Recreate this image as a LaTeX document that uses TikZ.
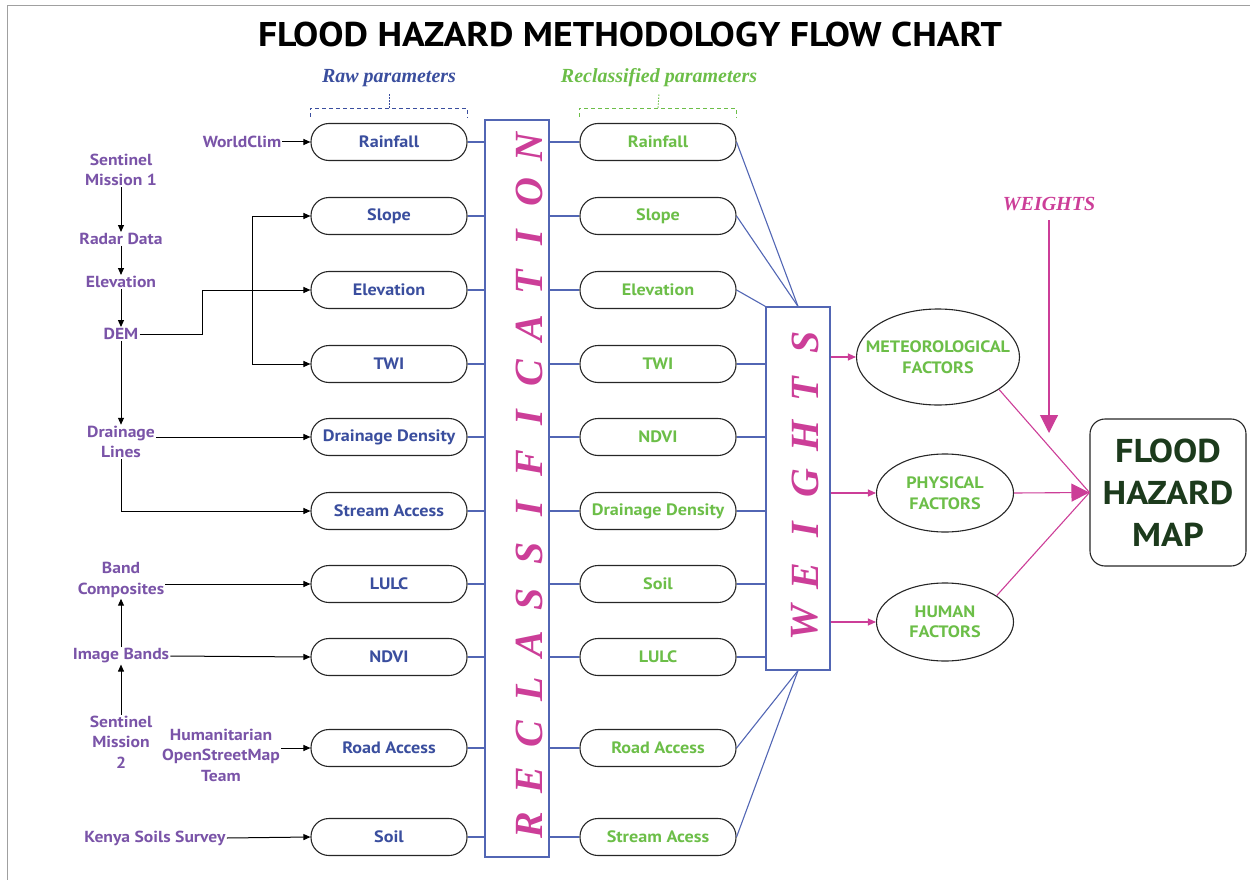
\documentclass[tikz,border=0pt]{standalone}
\usepackage{fontspec}
\setmainfont[FakeStretch=1.1]{PT Sans}
\newfontfamily\lserif{Liberation Serif}
\usetikzlibrary{arrows.meta,shapes.geometric,calc}
\definecolor{rawblue}{RGB}{58,78,158}
\definecolor{lineblue}{RGB}{82,102,180}
\definecolor{rgreen}{RGB}{108,190,72}
\definecolor{srcpurple}{RGB}{122,84,168}
\definecolor{wmag}{RGB}{204,62,152}
\definecolor{mapgreen}{RGB}{28,58,28}
\definecolor{framegray}{RGB}{160,160,160}
\begin{document}
\begin{tikzpicture}[x=1pt,y=-1pt,
  pbox/.style={draw=black!85, line width=1.1pt, rounded corners=18pt, minimum width=156pt, minimum height=37pt, inner sep=0pt, font=\fontsize{16.5}{18}\selectfont\bfseries},
  raw/.style={pbox, text=rawblue},
  rcl/.style={pbox, text=rgreen},
  src/.style={text=srcpurple, font=\fontsize{16}{20.5}\selectfont\bfseries, align=center, inner sep=1pt},
  arr/.style={-{Triangle[length=7pt,width=6pt]}, line width=1pt, black},
  blu/.style={lineblue, line width=1.1pt},
  mag/.style={wmag, line width=1.1pt},
  marr/.style={mag, -{Triangle[length=8pt,width=7pt]}},
  bigarr/.style={mag, -{Triangle[length=18pt,width=18pt]}},
  sidebox/.style={draw=lineblue, line width=1.2pt, minimum width=64pt, inner sep=0pt},
  bigletter/.style={text=wmag, font=\fontsize{40}{40}\selectfont\lserif\bfseries\itshape, rotate=90, inner sep=0pt},
  factor/.style={ellipse, draw=black!85, line width=1.1pt, inner sep=0pt},
  ftext/.style={text=rgreen, align=center, inner sep=0pt, font=\fontsize{16.5}{20.5}\selectfont\bfseries},
  plabel/.style={font=\fontsize{20}{22}\selectfont\lserif\bfseries\itshape},
  brack/.style={line width=0.8pt, dash pattern=on 4pt off 3pt},
  tick/.style={line width=0.9pt, dash pattern=on 1.5pt off 1.5pt}
]
\useasboundingbox (0,0) rectangle (1250,880);
\draw[framegray, line width=1pt] (7,880) -- (7,6) -- (1250,6);

\node[font=\fontsize{34.3}{40}\selectfont\bfseries] (title) at (630,34) {FLOOD HAZARD METHODOLOGY FLOW CHART};

% raw parameter boxes
\node[raw] (r1) at (389,142) {Rainfall};
\node[raw] (r2) at (389,216) {Slope};
\node[raw] (r3) at (389,290) {Elevation};
\node[raw] (r4) at (389,364) {TWI};
\node[raw] (r5) at (389,437) {Drainage Density};
\node[raw] (r6) at (389,511) {Stream Access};
\node[raw] (r7) at (389,584) {LULC};
\node[raw] (r8) at (389,657) {NDVI};
\node[raw] (r9) at (389,748) {Road Access};
\node[raw] (r10) at (389,837) {Soil};

% reclassified boxes
\node[rcl] (c1) at (658,142) {Rainfall};
\node[rcl] (c2) at (658,216) {Slope};
\node[rcl] (c3) at (658,290) {Elevation};
\node[rcl] (c4) at (658,364) {TWI};
\node[rcl] (c5) at (658,437) {NDVI};
\node[rcl] (c6) at (658,511) {Drainage Density};
\node[rcl] (c7) at (658,584) {Soil};
\node[rcl] (c8) at (658,657) {LULC};
\node[rcl] (c9) at (658,748) {Road Access};
\node[rcl] (c10) at (658,837) {Stream Acess};

% labels and brackets
\node[plabel, text=rawblue] (rawl) at (389,78) {Raw parameters};
\node[plabel, text=rgreen] (rcll) at (659,78) {Reclassified parameters};
\draw[brack, rawblue] ([yshift=6pt]r1.north west) -- ([yshift=15pt]r1.north west) -- ([yshift=15pt]r1.north east) -- ([yshift=6pt]r1.north east);
\draw[tick, rawblue] ([yshift=15pt]r1.north) -- ([yshift=-3pt]rawl.south);
\draw[brack, rgreen] ([yshift=6pt]c1.north west) -- ([yshift=15pt]c1.north west) -- ([yshift=15pt]c1.north east) -- ([yshift=6pt]c1.north east);
\draw[tick, rgreen] ([yshift=15pt]c1.north) -- ([yshift=-3pt]rcll.south);

% reclassification box
\node[sidebox, minimum height=737pt] (RB) at (517,488.5) {};
\foreach \l [count=\i from 0] in {R,E,C,L,A,S,S,I,F,I,C,A,T,I,O,N}
  \node[bigletter] (rl\i) at (529,825-45.2*\i) {\l};

% weights box
\node[sidebox, minimum height=363pt] (WB) at (798,488.5) {};
\foreach \l [count=\i from 0] in {W,E,I,G,H,T,S}
  \node[bigletter] (wl\i) at (805,623-46.7*\i) {\l};

% connectors raw -> RB -> reclassified
\foreach \i in {1,...,10} {
  \draw[blu] (r\i.east) -- (r\i.east -| RB.west);
  \draw[blu] (c\i.west -| RB.east) -- (c\i.west);
}

% reclassified -> weights
\draw[blu] (c1.east) -- (WB.north);
\draw[blu] (c2.east) -- (WB.north);
\draw[blu] (c3.east) -- (WB.north west);
\foreach \i in {4,...,8}
  \draw[blu] (c\i.east) -- (c\i.east -| WB.west);
\draw[blu] (c9.east) -- (WB.south);
\draw[blu] (c10.east) -- (WB.south);

% factors
\node[factor, minimum width=163pt, minimum height=96pt, label={[ftext]center:METEOROLOGICAL\\FACTORS}] (met) at (938,357) {};
\node[factor, minimum width=137pt, minimum height=78pt, label={[ftext]center:PHYSICAL\\FACTORS}] (phys) at (945,493) {};
\node[factor, minimum width=137pt, minimum height=78pt, label={[ftext]center:HUMAN\\FACTORS}] (hum) at (945,622) {};
\draw[marr] (WB.east |- met.west) -- (met.west);
\draw[marr] (WB.east |- phys.west) -- (phys.west);
\draw[marr] (WB.east |- hum.west) -- (hum.west);

% map
\node[draw=black!85, line width=1.1pt, rounded corners=15pt, minimum width=156pt, minimum height=147pt, font=\fontsize{33}{42}\selectfont\bfseries, text=mapgreen, align=center] (map) at (1168,492.5) {FLOOD\\HAZARD\\MAP};
\draw[mag] (met.-28) -- (map.west);
\draw[mag] (hum.27) -- (map.west);
\draw[bigarr] (phys.east) -- (map.west);

\node[plabel, text=wmag] (wlab) at (1049,204) {WEIGHTS};
\coordinate (wtip) at (1049,433);
\draw[bigarr, shorten <=6pt] (wlab.south) -- (wtip);

% sources
\node[src] (wc) at (242,142) {WorldClim};
\node[src] (s1) at (121,170) {Sentinel\\Mission 1};
\node[src] (rd) at (121,239) {Radar Data};
\node[src] (el) at (121,282) {Elevation};
\node[src] (dem) at (121,334) {DEM};
\node[src] (dl) at (121,442) {Drainage\\Lines};
\node[src] (bc) at (121,580) {Band\\Composites};
\node[src] (ib) at (121,656) {Image Bands};
\node[src] (s2) at (121,742) {Sentinel\\Mission\\2};
\node[src] (hot) at (221,755) {Humanitarian\\OpenStreetMap\\Team};
\node[src] (kss) at (155,838) {Kenya Soils Survey};

\draw[arr] (wc.east) -- (r1.west);
\draw[arr] (s1.south) -- (rd.north);
\draw[arr] (rd.south) -- (el.north);
\draw[arr] (el.south) -- (dem.north);
\coordinate (demk) at (202,334);
\draw[arr] (dem.east) -- (demk) |- (r3.west);
\coordinate (stk) at (252,216);
\draw[arr] (stk) -- (r2.west);
\draw[arr] (stk) |- (r4.west);
\draw[arr] (dem.south) -- (dl.north);
\draw[arr] (dl.east |- r5.west) -- (r5.west);
\draw[arr] (dl.south) |- (r6.west);
\draw[arr] (bc.east |- r7.west) -- (r7.west);
\draw[arr] (ib.east) -- (r8.west);
\draw[arr] (ib.north) -- (bc.south);
\draw[arr] (s2.north) -- (ib.south);
\draw[arr] (hot.east |- r9.west) -- (r9.west);
\draw[arr] (kss.east) -- (r10.west);
\end{tikzpicture}
\end{document}
